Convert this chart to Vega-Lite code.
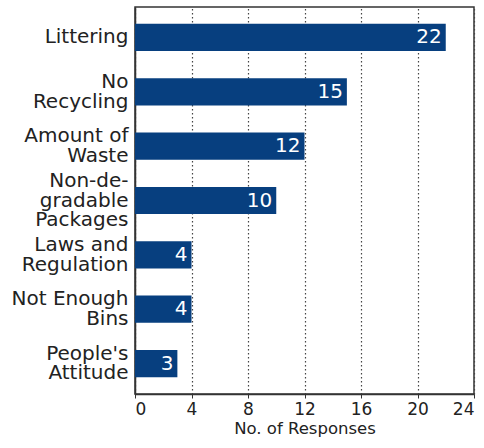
{
  "$schema": "https://vega.github.io/schema/vega-lite/v6.json",
  "autosize": "none",
  "width": 339,
  "height": 387,
  "padding": {"left": 135, "top": 7, "right": 10, "bottom": 54},
  "data": {
    "values": [
      {"cause": "Littering", "responses": 22},
      {"cause": "No|Recycling", "responses": 15},
      {"cause": "Amount of|Waste", "responses": 12},
      {"cause": "Non-de-|gradable|Packages", "responses": 10},
      {"cause": "Laws and|Regulation", "responses": 4},
      {"cause": "Not Enough|Bins", "responses": 4},
      {"cause": "People's|Attitude", "responses": 3}
    ]
  },
  "config": {
    "font": "DejaVu Sans",
    "view": {"stroke": "#333333", "strokeWidth": 1.5},
    "axis": {"labelColor": "#222222", "titleColor": "#222222", "domainColor": "#333333", "tickColor": "#333333"}
  },
  "encoding": {
    "y": {
      "field": "cause",
      "type": "nominal",
      "sort": null,
      "scale": {"paddingInner": 0.5, "paddingOuter": 0.31},
      "axis": {
        "title": null,
        "ticks": false,
        "labelExpr": "split(datum.label, '|')",
        "labelFontSize": 20,
        "labelLineHeight": 19.5,
        "labelPadding": 7,
        "labelLimit": 200,
        "domainWidth": 1.5,
        "labelOffset": {
          "condition": [
            {"test": "length(split(datum.value, '|')) == 3", "value": -19.5},
            {"test": "length(split(datum.value, '|')) == 2", "value": -9.75}
          ],
          "value": 0
        }
      }
    },
    "x": {
      "field": "responses",
      "type": "quantitative",
      "scale": {"domain": [0, 24], "nice": false},
      "axis": {
        "title": "No. of Responses",
        "values": [0, 4, 8, 12, 16, 20, 24],
        "labelFontSize": 17,
        "titleFontSize": 16.5,
        "titleFontWeight": "normal",
        "titlePadding": 3,
        "tickSize": 4,
        "labelPadding": 3,
        "domainWidth": 1.5,
        "grid": true,
        "gridColor": "#444444",
        "gridDash": [1.5, 2.5],
        "gridWidth": 1.2
      }
    }
  },
  "layer": [
    {"mark": {"type": "bar", "color": "#073f7f"}},
    {
      "mark": {"type": "text", "align": "right", "baseline": "middle", "dx": -4, "color": "white", "fontSize": 20},
      "encoding": {"text": {"field": "responses", "type": "quantitative"}}
    }
  ]
}
